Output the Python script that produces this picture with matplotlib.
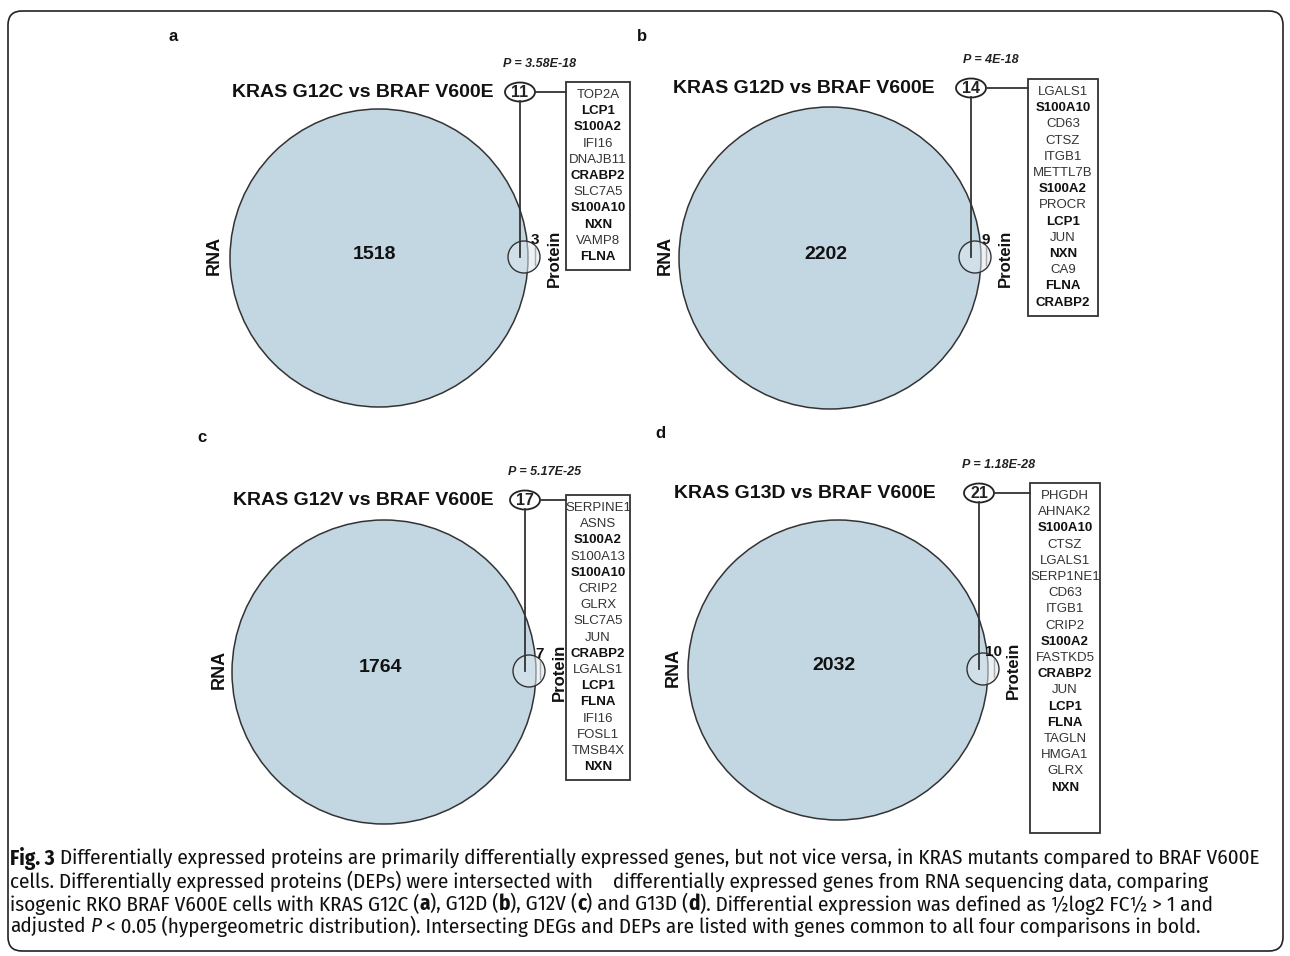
import matplotlib
matplotlib.use('Agg')
import matplotlib.pyplot as plt
from matplotlib import font_manager
from matplotlib.patches import Circle, Ellipse, Rectangle, FancyBboxPatch

# ---- data ----
panels = ['a', 'b', 'c', 'd']
titles = ['KRAS G12C vs BRAF V600E', 'KRAS G12D vs BRAF V600E',
          'KRAS G12V vs BRAF V600E', 'KRAS G13D vs BRAF V600E']
rna_only = [1518, 2202, 1764, 2032]
overlap = [11, 14, 17, 21]
protein_only = [3, 9, 7, 10]
p_values = ['3.58E-18', '4E-18', '5.17E-25', '1.18E-28']

genes_a = ['TOP2A', 'LCP1', 'S100A2', 'IFI16', 'DNAJB11', 'CRABP2', 'SLC7A5',
           'S100A10', 'NXN', 'VAMP8', 'FLNA']
genes_b = ['LGALS1', 'S100A10', 'CD63', 'CTSZ', 'ITGB1', 'METTL7B', 'S100A2',
           'PROCR', 'LCP1', 'JUN', 'NXN', 'CA9', 'FLNA', 'CRABP2']
genes_c = ['SERPINE1', 'ASNS', 'S100A2', 'S100A13', 'S100A10', 'CRIP2', 'GLRX',
           'SLC7A5', 'JUN', 'CRABP2', 'LGALS1', 'LCP1', 'FLNA', 'IFI16', 'FOSL1',
           'TMSB4X', 'NXN']
genes_d = ['PHGDH', 'AHNAK2', 'S100A10', 'CTSZ', 'LGALS1', 'SERP1NE1', 'CD63',
           'ITGB1', 'CRIP2', 'S100A2', 'FASTKD5', 'CRABP2', 'JUN', 'LCP1', 'FLNA',
           'TAGLN', 'HMGA1', 'GLRX', 'NXN']
gene_lists = [genes_a, genes_b, genes_c, genes_d]
common = set(genes_a) & set(genes_b) & set(genes_c) & set(genes_d)

caption = [
    [('Fig. 3', 'bold', 'normal'),
     (' Differentially expressed proteins are primarily differentially expressed genes, '
      'but not vice versa, in KRAS mutants compared to BRAF V600E', 'normal', 'normal')],
    [('cells. Differentially expressed proteins (DEPs) were intersected with    '
      'differentially expressed genes from RNA sequencing data, comparing', 'normal', 'normal')],
    [('isogenic RKO BRAF V600E cells with KRAS G12C (', 'normal', 'normal'), ('a', 'bold', 'normal'),
     ('), G12D (', 'normal', 'normal'), ('b', 'bold', 'normal'),
     ('), G12V (', 'normal', 'normal'), ('c', 'bold', 'normal'),
     (') and G13D (', 'normal', 'normal'), ('d', 'bold', 'normal'),
     ('). Differential expression was defined as \u00bdlog2 FC\u00bd > 1 and', 'normal', 'normal')],
    [('adjusted ', 'normal', 'normal'), ('P', 'normal', 'italic'),
     (' < 0.05 (hypergeometric distribution). Intersecting DEGs and DEPs are listed with '
      'genes common to all four comparisons in bold.', 'normal', 'normal')],
]

# ---- layout (pixel coordinates, y down) ----
centers = [(379, 258), (830, 258), (384, 672), (838, 670)]
radius = [149, 151, 152, 150]
label_xy = [(173, 36), (642, 36), (202, 437), (660, 434)]
title_x = [363, 804, 363, 805]
ell_y = [92, 88, 500, 493]
box_x = [566, 1028, 566, 1030]
box_y = [82, 79, 495, 483]
box_w = [64, 70, 64, 70]
step = 16.2

plt.rcParams['font.family'] = ['Liberation Sans', 'DejaVu Sans']
fig = plt.figure(figsize=(12.9, 9.56), dpi=100)
ax = fig.add_axes([0, 0, 1, 1])
ax.set_xlim(0, 1290)
ax.set_ylim(956, 0)
ax.axis('off')

for i in range(4):
    cx, cy = centers[i]
    r = radius[i]
    ex = cx + 141
    ey = ell_y[i]

    ax.text(label_xy[i][0], label_xy[i][1], panels[i], fontsize=12, fontweight='bold',
            ha='center', va='center', color='#111111')
    ax.text(title_x[i], ey, titles[i], fontsize=14, fontweight='bold',
            ha='center', va='center', color='#111111')

    ax.add_patch(Circle((cx, cy), r, facecolor='#c3d7e3', edgecolor='#333333', lw=1.1))
    sx, sy = cx + 145, cy - 1
    ax.add_patch(Circle((sx, sy), 16, facecolor='#dde7ed', alpha=0.55,
                        edgecolor='none'))
    ax.add_patch(Circle((sx, sy), 16, facecolor='none', edgecolor='#333333', lw=1.0))
    ax.plot([sx + 11, sx + 11], [sy - 10, sy + 8], color='#aaaaaa', lw=1)

    ax.plot([ex, ex], [ey + 9, sy], color='#333333', lw=1.3)
    ax.plot([ex + 15, box_x[i]], [ey, ey], color='#333333', lw=1.3)
    ax.add_patch(Ellipse((ex, ey), 30, 19, facecolor='white', edgecolor='#222222', lw=1.3))
    ax.text(ex, ey + 0.5, str(overlap[i]), fontsize=11.5, fontweight='bold',
            ha='center', va='center', color='#222222')
    ax.text(ex + 20, ey - 28, 'P = ' + p_values[i], fontsize=9, fontweight='bold',
            fontstyle='italic', ha='center', va='center', color='#222222')

    ax.text(cx - 4, cy - 4, str(rna_only[i]), fontsize=14, fontweight='bold',
            ha='center', va='center', color='#111111')
    ax.text(cx - 165, cy - 3, 'RNA', fontsize=13, fontweight='bold', rotation=90,
            ha='center', va='center', color='#111111')
    ax.text(cx + 156, cy - 18, str(protein_only[i]), fontsize=11, fontweight='bold',
            ha='center', va='center', color='#111111')
    ax.text(cx + 175, cy, 'Protein', fontsize=12, fontweight='bold', rotation=90,
            ha='center', va='center', color='#111111')

    bh = overlap[i] * step + 10
    ax.add_patch(Rectangle((box_x[i], box_y[i]), box_w[i], bh, facecolor='white',
                           edgecolor='#333333', lw=1.3))
    gx = box_x[i] + box_w[i] / 2
    for k, g in enumerate(gene_lists[i]):
        bold = g in common
        ax.text(gx, box_y[i] + 13 + k * step, g, fontsize=9.5,
                fontweight='bold' if bold else 'normal',
                color='#111111' if bold else '#333333', ha='center', va='center')

# frame around figure
ax.add_patch(FancyBboxPatch((8, 11), 1275, 940, boxstyle='round,pad=0,rounding_size=14',
                            facecolor='none', edgecolor='#222222', lw=1.2))

# ---- caption, drawn run by run in a condensed face ----
names = {f.name for f in font_manager.fontManager.ttflist}
cap_family = ['Liberation Sans']
for n in ['Fira Sans Condensed', 'PT Sans Narrow']:
    if n in names:
        cap_family = [n]
        break
cap_family = cap_family + ['DejaVu Sans']
renderer = fig.canvas.get_renderer()


def width_px(s, size, weight, style):
    t = fig.text(0, 0, s, fontsize=size, fontweight=weight, fontstyle=style,
                 family=cap_family)
    w = t.get_window_extent(renderer).width
    t.remove()
    return w


def space_px(size, weight, style):
    return width_px('x x', size, weight, style) - width_px('xx', size, weight, style)


def line_width(runs, size):
    total = 0
    for s, w, st in runs:
        sp = space_px(size, w, st)
        core = s.strip(' ')
        lead = len(s) - len(s.lstrip(' '))
        trail = len(s) - len(s.rstrip(' '))
        total += (lead + trail) * sp + (width_px(core, size, w, st) if core else 0)
    return total


base = 12.0
cap_size = base * 1256 / line_width(caption[0], base)
cap_size = min(cap_size, base * 1275 / line_width(caption[2], base))
line_y = [858, 881, 904, 926]
for runs, y in zip(caption, line_y):
    x = 10
    for s, w, st in runs:
        sp = space_px(cap_size, w, st)
        core = s.strip(' ')
        lead = len(s) - len(s.lstrip(' '))
        trail = len(s) - len(s.rstrip(' '))
        x += lead * sp
        if core:
            ax.text(x, y, core, fontsize=cap_size, fontweight=w, fontstyle=st,
                    family=cap_family, ha='left', va='center', color='#111111')
            x += width_px(core, cap_size, w, st)
        x += trail * sp

fig.savefig('out.png', dpi=100)
